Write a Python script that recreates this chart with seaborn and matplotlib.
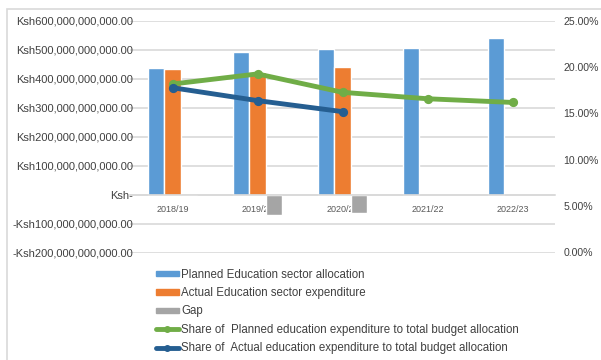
import matplotlib
matplotlib.use("Agg")
import matplotlib.pyplot as plt
import matplotlib.ticker as mticker
from matplotlib.patches import Rectangle, Patch
from matplotlib.lines import Line2D
import numpy as np
import pandas as pd
import seaborn as sns

years = ["2018/19", "2019/20", "2020/21", "2021/22", "2022/23"]
planned = [439e9, 492e9, 502e9, 506e9, 540e9]
actual = [434e9, 423e9, 441e9, np.nan, np.nan]
gap = [-5e9, -69e9, -61e9, np.nan, np.nan]
share_planned = [0.182, 0.193, 0.173, 0.166, 0.162]
share_actual = [0.178, 0.164, 0.152, np.nan, np.nan]

s_planned = "Planned Education sector allocation"
s_actual = "Actual Education sector expenditure"
s_gap = "Gap"
l_planned = "Share of  Planned education expenditure to total budget allocation"
l_actual = "Share of  Actual education expenditure to total budget allocation"

c_blue = "#5b9bd5"
c_orange = "#ed7d31"
c_gray = "#a5a5a5"
c_green = "#70ad47"
c_dblue = "#255e91"

sns.set_theme(style="white")
plt.rcParams["font.family"] = ["Liberation Sans", "DejaVu Sans"]

bars = pd.DataFrame({
    "year": years * 3,
    "series": [s_planned] * 5 + [s_actual] * 5 + [s_gap] * 5,
    "value": planned + actual + gap,
})
lines = pd.DataFrame({"year": years, "sp": share_planned, "sa": share_actual})

fig = plt.figure(figsize=(6.01, 3.60), dpi=100)
ax = fig.add_axes([130 / 601, 1 - 253 / 360, 425 / 601, 232 / 360])

sns.barplot(data=bars, x="year", y="value", hue="series", order=years,
            hue_order=[s_planned, s_actual, s_gap],
            palette=[c_blue, c_orange, c_gray], width=0.57, gap=0,
            errorbar=None, ax=ax, legend=False, saturation=1)
ax.set_ylim(-200e9, 600e9)
ax.set_yticks(np.arange(-200e9, 600e9 + 1, 100e9))


def fmt_left(v, pos):
    if abs(v) < 1:
        return "Ksh-"
    s = f"Ksh{abs(v):,.2f}"
    return "-" + s if v < 0 else s


ax.yaxis.set_major_formatter(mticker.FuncFormatter(fmt_left))
ax.grid(axis="y", color="#d9d9d9", linewidth=1.2)
ax.set_axisbelow(True)
for sp in ["top", "right", "left"]:
    ax.spines[sp].set_visible(False)
ax.spines["bottom"].set_position(("data", 0))
ax.spines["bottom"].set_color("#d9d9d9")
ax.spines["bottom"].set_linewidth(1.2)
ax.tick_params(axis="y", length=0, labelsize=8, labelcolor="#404040", pad=-2)
ax.tick_params(axis="x", length=0, labelsize=6.5, labelcolor="#595959", pad=7)
ax.set_xlabel("")
ax.set_ylabel("")

ax2 = ax.twinx()
sns.pointplot(data=lines, x="year", y="sp", order=years, color=c_green,
              markers="o", markersize=4, linewidth=3.5, errorbar=None, ax=ax2)
sns.pointplot(data=lines, x="year", y="sa", order=years, color=c_dblue,
              markers="o", markersize=4, linewidth=3.5, errorbar=None, ax=ax2)
ax2.set_ylim(-0.0016, 0.2505)
ax2.set_yticks([0, 0.05, 0.10, 0.15, 0.20, 0.25])
ax2.yaxis.set_major_formatter(mticker.FuncFormatter(lambda v, p: f"{v*100:.2f}%"))
ax2.tick_params(axis="y", length=0, labelsize=7.6, labelcolor="#404040", pad=6)
for sp in ["top", "right", "left", "bottom"]:
    ax2.spines[sp].set_visible(False)
ax2.set_ylabel("")
ax2.set_xlabel("")
ax.set_xlim(-0.5, 4.5)

handles = [
    Patch(color=c_blue), Patch(color=c_orange), Patch(color=c_gray),
    Line2D([], [], color=c_green, lw=3.5, marker="o", markersize=4),
    Line2D([], [], color=c_dblue, lw=3.5, marker="o", markersize=4),
]
labels = [s_planned, s_actual, s_gap, l_planned, l_actual]
fig.legend(handles, labels, loc="upper left", bbox_to_anchor=(150 / 601, 1 - 263 / 360),
           frameon=False, fontsize=8.3, handlelength=2.0, handleheight=0.35,
           handletextpad=0.2, labelspacing=0.55, borderpad=0, labelcolor="#404040")

fig.patches.append(Rectangle((7 / 601, -0.1), 1.2, 1 - 9 / 360 + 0.1,
                             transform=fig.transFigure, fill=False,
                             edgecolor="#d9d9d9", linewidth=1.2))

fig.savefig("out.png", dpi=100)
